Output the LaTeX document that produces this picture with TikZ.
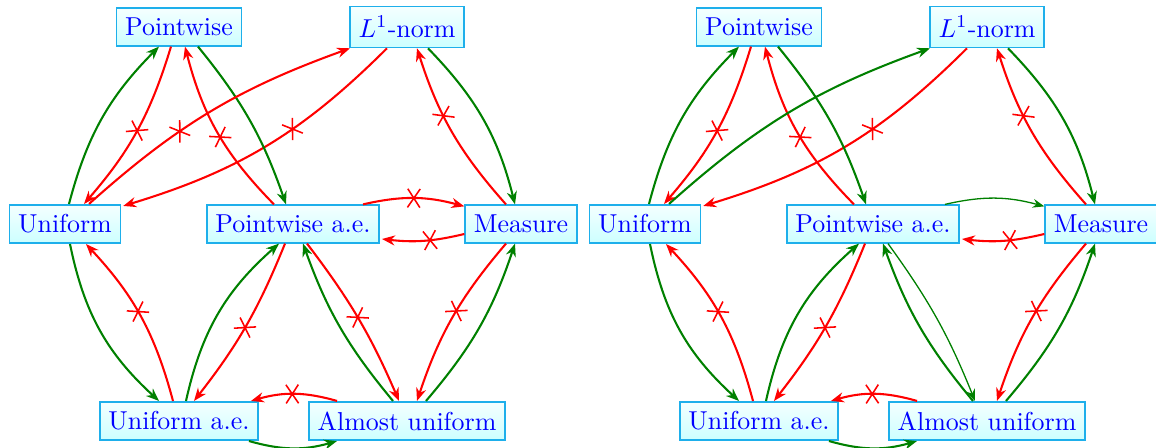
\documentclass[tikz,border=0pt]{standalone}
\usetikzlibrary{calc,arrows.meta,decorations.markings}
\definecolor{boxborder}{RGB}{30,175,235}
\definecolor{okgreen}{RGB}{0,128,0}
\definecolor{xred}{RGB}{255,0,0}
\tikzset{
  cbox/.style={draw=boxborder, line width=0.6pt, top color=cyan!4, bottom color=cyan!20, text=blue, inner xsep=3.33pt, inner ysep=3.8pt},
  goarrow/.style={okgreen, thick, -{Stealth[length=5pt,width=3.9pt]}},
  goarrowthin/.style={okgreen, line width=0.5pt, -{Stealth[length=4.5pt,width=3.4pt]}},
  noarrow/.style={xred, thick, -{Stealth[length=5pt,width=3.9pt]},
    decoration={markings, mark=at position #1 with {\draw[xred, semithick, -] (-2.4pt,-3.6pt) -- (2.4pt,3.6pt) (-2.4pt,3.6pt) -- (2.4pt,-3.6pt);}},
    postaction={decorate}},
  noarrow/.default=0.5,
}
\begin{document}
\begin{tikzpicture}[x=0.3861pt, y=0.3861pt]
\useasboundingbox (0,0) rectangle (1156,448);
\foreach \p/\dx in {a/0, b/580} {
  \node[cbox] (\p P)  at (179+\dx,421) {Pointwise};
  \node[cbox] (\p L)  at (407+\dx,421) {$L^1$-norm};
  \node[cbox] (\p U)  at (65+\dx,224)  {Uniform};
  \node[cbox] (\p A)  at (293+\dx,224) {Pointwise a.e.};
  \node[cbox] (\p M)  at (521+\dx,224) {Measure};
  \node[cbox] (\p Ue) at (179+\dx,27)  {Uniform a.e.};
  \node[cbox] (\p Au) at (407+\dx,27)  {Almost uniform};
}
\foreach \p in {a,b} {
  \draw[goarrow] ($(\p U.north)+(4,0)$) to[bend left=15] ($(\p P.south)+(-20,0)$);
  \draw[noarrow=0.5] ($(\p P.south)+(-8,0)$) to[bend left=12] ($(\p U.north)+(19,0)$);
  \draw[noarrow=0.4] ($(\p L.south)+(-20,0)$) to[bend left=14] ($(\p U.north east)+(2,-2)$);
  \draw[noarrow=0.47] ($(\p A.north)+(-19,0)$) to[bend left=15] ($(\p P.south)+(6,0)$);
  \draw[goarrow] ($(\p P.south)+(19,0)$) to[bend left=10] ($(\p A.north)+(-7,0)$);
  \draw[noarrow=0.6] ($(\p M.north)+(-15,0)$) to[bend left=12] ($(\p L.south)+(10,0)$);
  \draw[goarrow] ($(\p L.south)+(21,0)$) to[bend left=15] ($(\p M.north)+(-6,0)$);
  \draw[noarrow=0.42] ($(\p M.west)+(0,-10)$) to[bend left=10] ($(\p A.east)+(2,-15)$);
  \draw[goarrow] ($(\p U.south)+(5,0)$) to[bend right=18] ($(\p Ue.north)+(-20,0)$);
  \draw[noarrow=0.53] ($(\p Ue.north)+(-6,0)$) to[bend right=14] ($(\p U.south)+(21,0)$);
  \draw[goarrow] ($(\p Ue.north)+(7,0)$) to[bend left=18] ($(\p A.south)+(-14,0)$);
  \draw[noarrow=0.51] ($(\p A.south)+(-8,0)$) to[bend left=8] ($(\p Ue.north)+(15,0)$);
  \draw[goarrow] ($(\p Au.north)+(-14,0)$) to[bend left=10] ($(\p A.south)+(10,0)$);
  \draw[noarrow=0.46] ($(\p M.south)+(-15,0)$) to[bend right=11] ($(\p Au.north)+(10,0)$);
  \draw[goarrow] ($(\p Au.north)+(19,0)$) to[bend right=11] ($(\p M.south)+(-6,0)$);
  \draw[noarrow=0.52] ($(\p Au.north)+(-70,0)$) to[bend right=16] ($(\p Ue.north)+(72,0)$);
  \draw[goarrow] ($(\p Ue.south)+(70,0)$) to[bend right=16] ($(\p Au.south)+(-70,0)$);
}
% left diagram only
\draw[noarrow=0.38] ($(aU.north)+(24,0)$) to[bend left=11] ($(aL.south)+(-57,0)$);
\draw[noarrow=0.5] ($(aA.north)+(70,0)$) to[bend left=14] ($(aM.north west)+(0,-2)$);
\draw[noarrow=0.49] ($(aA.south)+(14,0)$) to[bend left=7] ($(aAu.north)+(-8,0)$);
% right diagram only
\draw[goarrow] ($(bU.north)+(24,0)$) to[bend left=11] ($(bL.south)+(-57,0)$);
\draw[goarrowthin] ($(bA.north)+(72,0)$) to[bend left=14] ($(bM.north west)+(0,-2)$);
\draw[goarrowthin] ($(bA.south)+(15,0)$) to[bend left=7] ($(bAu.north)+(-12,0)$);
\end{tikzpicture}
\end{document}
